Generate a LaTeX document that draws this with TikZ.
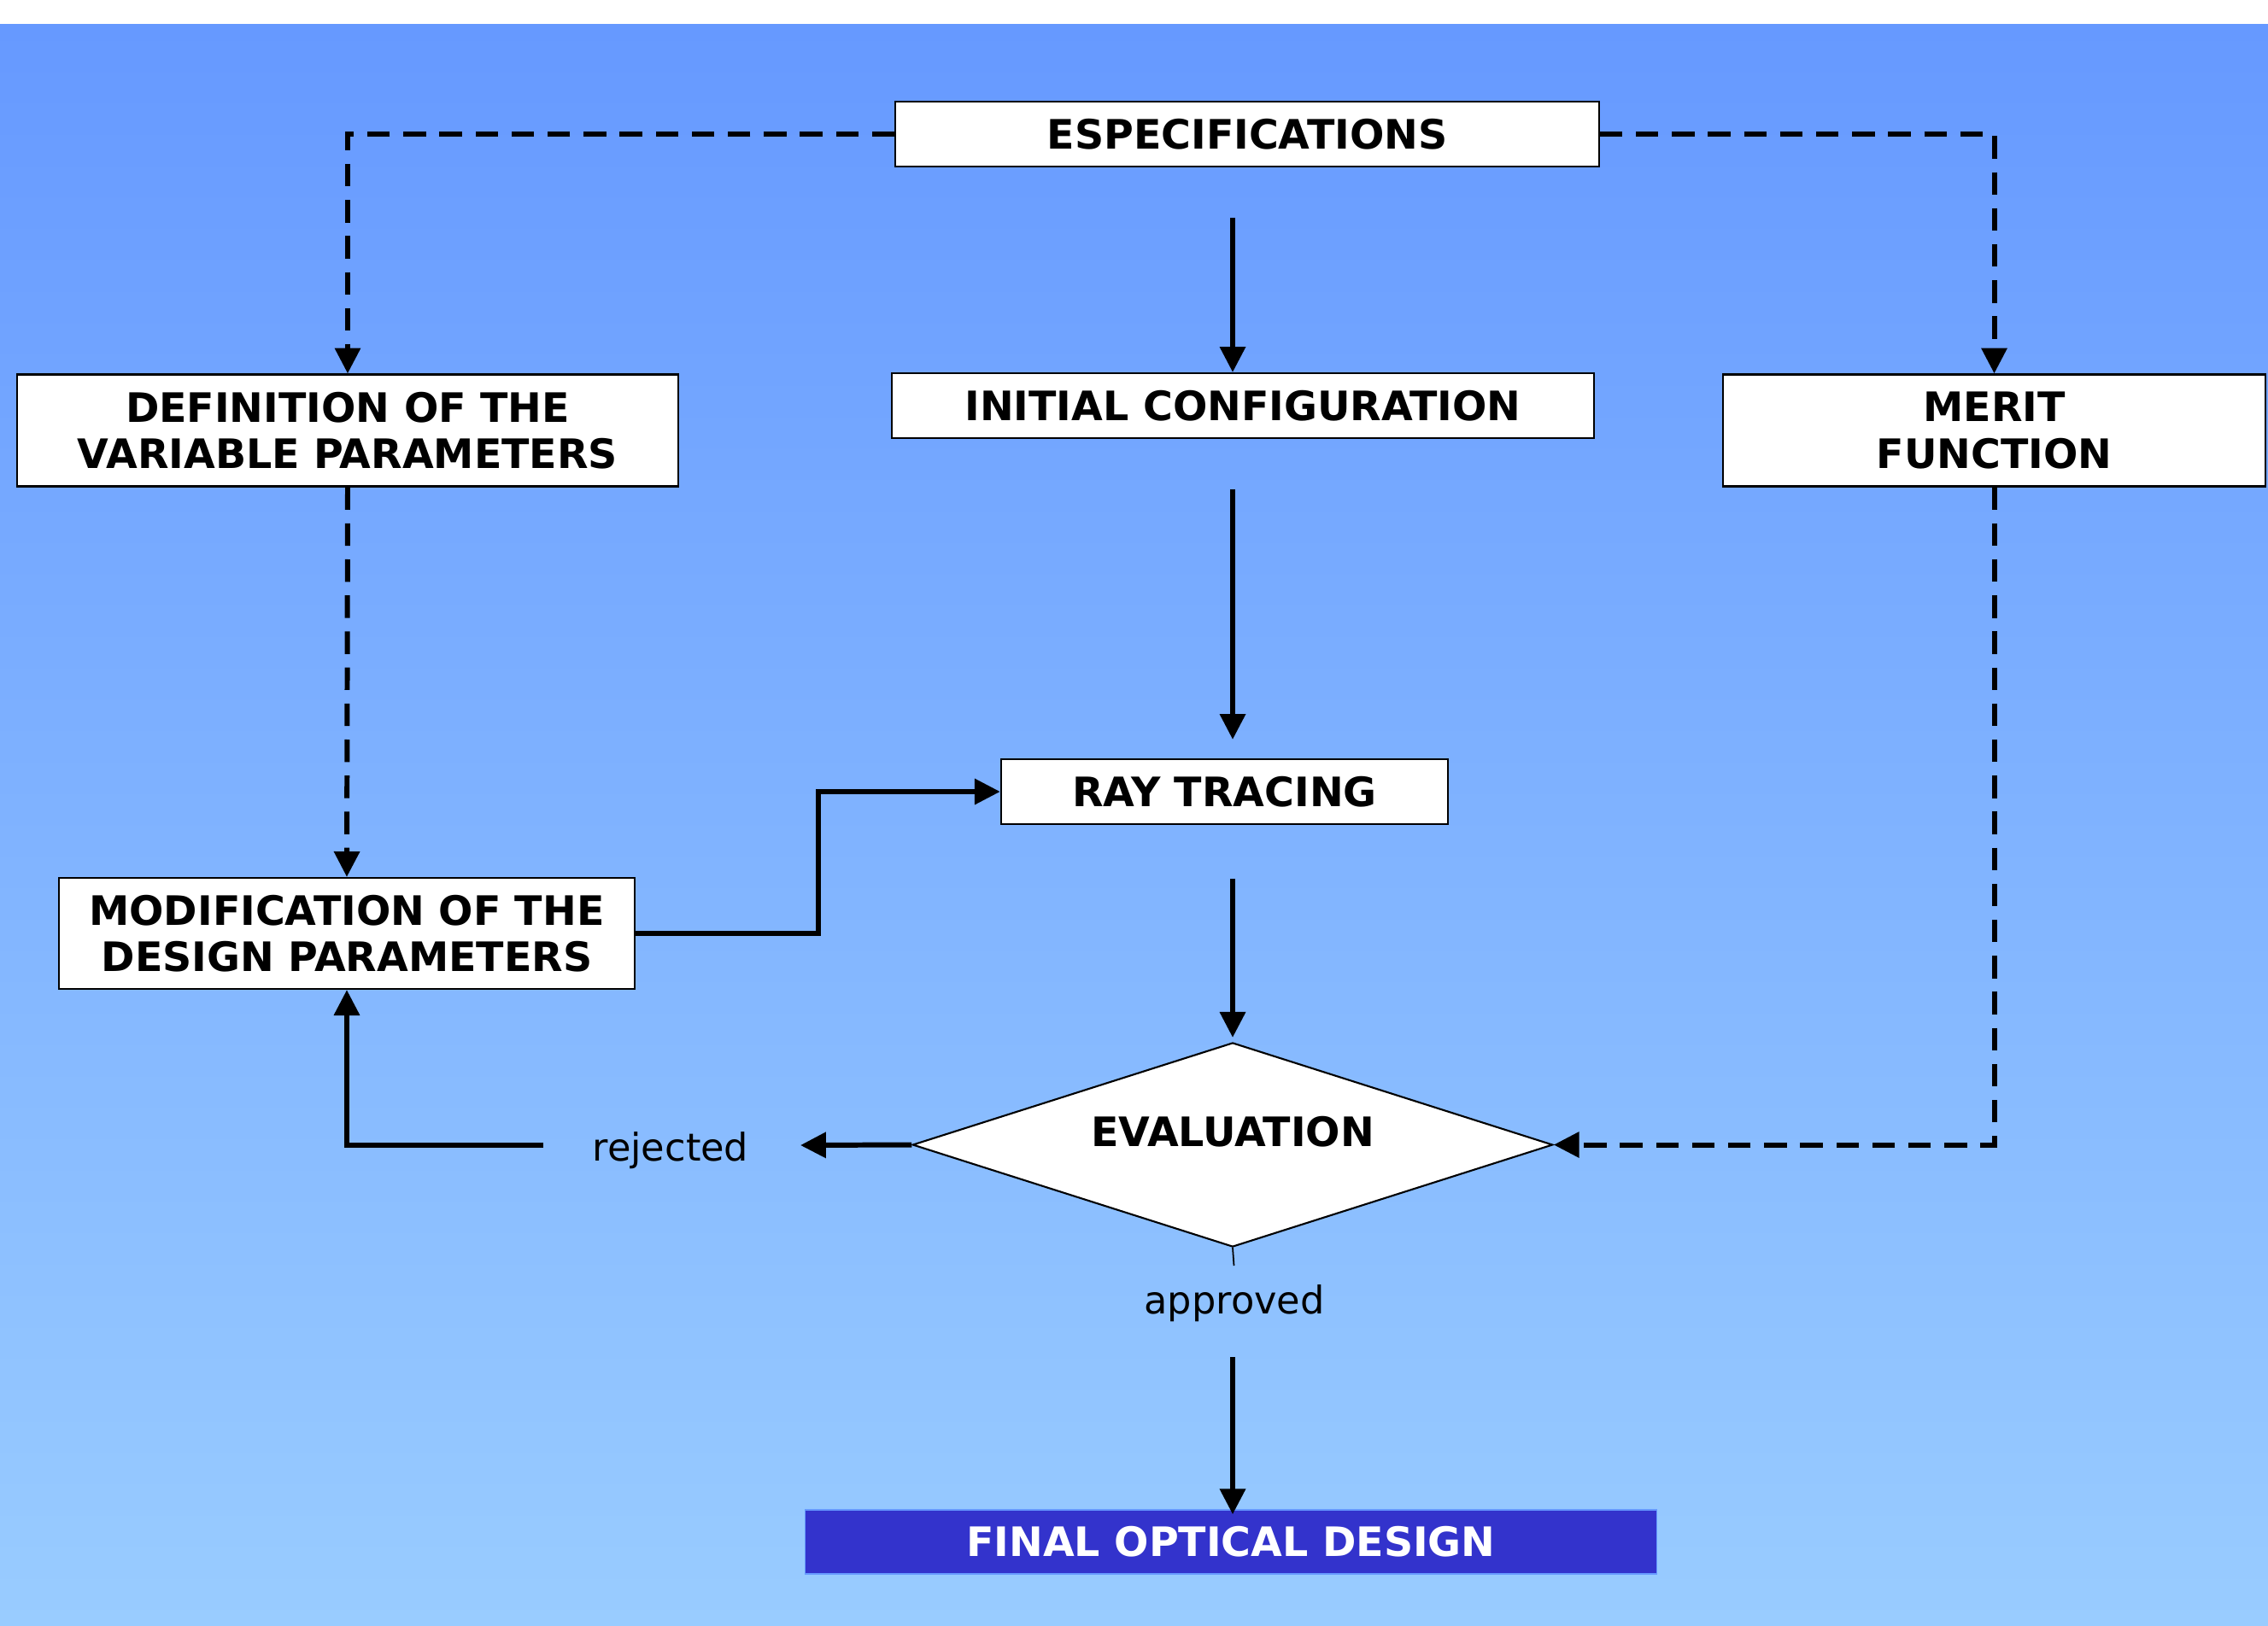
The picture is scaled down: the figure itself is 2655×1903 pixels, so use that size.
\documentclass[tikz,border=0pt]{standalone}
\usepackage{fontspec}
\setmainfont{DejaVu Sans}
\usetikzlibrary{arrows.meta,calc,shapes.geometric}
\definecolor{bgtop}{HTML}{6699FF}
\definecolor{bgbot}{HTML}{99CCFF}
\definecolor{finalblue}{HTML}{3333CC}
\begin{document}
\begin{tikzpicture}[x=0.01cm,y=-0.01cm,
  box/.style={draw=black, line width=0.6pt, fill=white, inner sep=0pt, align=center,
    font=\fontsize{13.5}{15.4}\selectfont\bfseries},
  tipd/.style={-{Triangle[length=8.5pt,width=8.3pt]}},
  arr/.style={line width=1.7pt, tipd},
  dline/.style={line width=1.7pt, dash pattern=on 7.5pt off 4.5pt},
  lab/.style={font=\fontsize{12.7}{15}\selectfont, inner sep=0pt}
]
\fill[white] (0,0) rectangle (2655,1903);
\shade[top color=bgtop, bottom color=bgbot] (0,29) rectangle (2655,1903);
\useasboundingbox (0,0) rectangle (2655,1903);

% boxes
\node[box, minimum width=8.23cm, minimum height=0.76cm] (esp) at (1460,157) {ESPECIFICATIONS};
\node[box, minimum width=8.21cm, minimum height=0.76cm] (init) at (1455,475) {INITIAL CONFIGURATION};
\node[box, minimum width=7.74cm, minimum height=1.31cm] (def) at (407,504) {DEFINITION OF THE\\VARIABLE PARAMETERS};
\node[box, minimum width=6.35cm, minimum height=1.31cm] (merit) at (2334.5,504) {MERIT\\FUNCTION};
\node[box, minimum width=5.23cm, minimum height=0.76cm] (ray) at (1433.5,927) {RAY TRACING};
\node[box, minimum width=6.74cm, minimum height=1.30cm] (mod) at (406,1093) {MODIFICATION OF THE\\DESIGN PARAMETERS};
\node[draw=black, fill=white, line width=0.6pt, shape=diamond, aspect=3.13,
      minimum width=7.49cm, minimum height=2.39cm, inner sep=0pt] (eval) at (1443,1340.5) {};
\node[font=\fontsize{13.5}{15.4}\selectfont\bfseries, inner sep=0pt] (evaltxt) at (1443,1325) {EVALUATION};
\node[draw=bgtop, line width=0.4pt, fill=finalblue, text=white, inner sep=0pt,
      minimum width=9.96cm, minimum height=0.75cm,
      font=\fontsize{13.5}{15.4}\selectfont\bfseries] (final) at (1441,1805.5) {FINAL OPTICAL DESIGN};

% labels
\node[lab, anchor=base] (rej) at (785,1359) {rejected};
\node[lab, anchor=base] (appr) at (1445,1538) {approved};

% free-end coordinates
\coordinate (rejtip) at (937,1341);
\coordinate (rejstart) at (636,1341);
\coordinate (elbow) at (958,928);
\coordinate (stub) at (1444.5,1482);

% dashed connectors
\draw[dline, tipd] (esp.west) -| (def.north);
\draw[dline, tipd] (esp.east) -| (merit.north);
\draw[dline, tipd] (def.south) -- (mod.north);
\draw[dline, tipd] (merit.south) |- (eval.east);

% solid connectors
\draw[arr, shorten <=0.59cm] (esp.south -| eval.north) -- (init.north -| eval.north);
\draw[arr, shorten <=0.59cm, shorten >=0.22cm] (init.south -| eval.north) -- (ray.north -| eval.north);
\draw[arr, shorten <=0.63cm, shorten >=0.05cm] (ray.south -| eval.north) -- (eval.north);
\draw[line width=0.5pt] (eval.south) -- (stub);
\draw[arr, shorten <=1.28cm, shorten >=-0.06cm] (eval.south) -- (final.north -| eval.south);
\draw[arr] (mod.east) -| (elbow) |- (ray.west);
\draw[arr] (eval.west) -- (rejtip);
\draw[arr] (rejstart) -| (mod.south);
\end{tikzpicture}
\end{document}
